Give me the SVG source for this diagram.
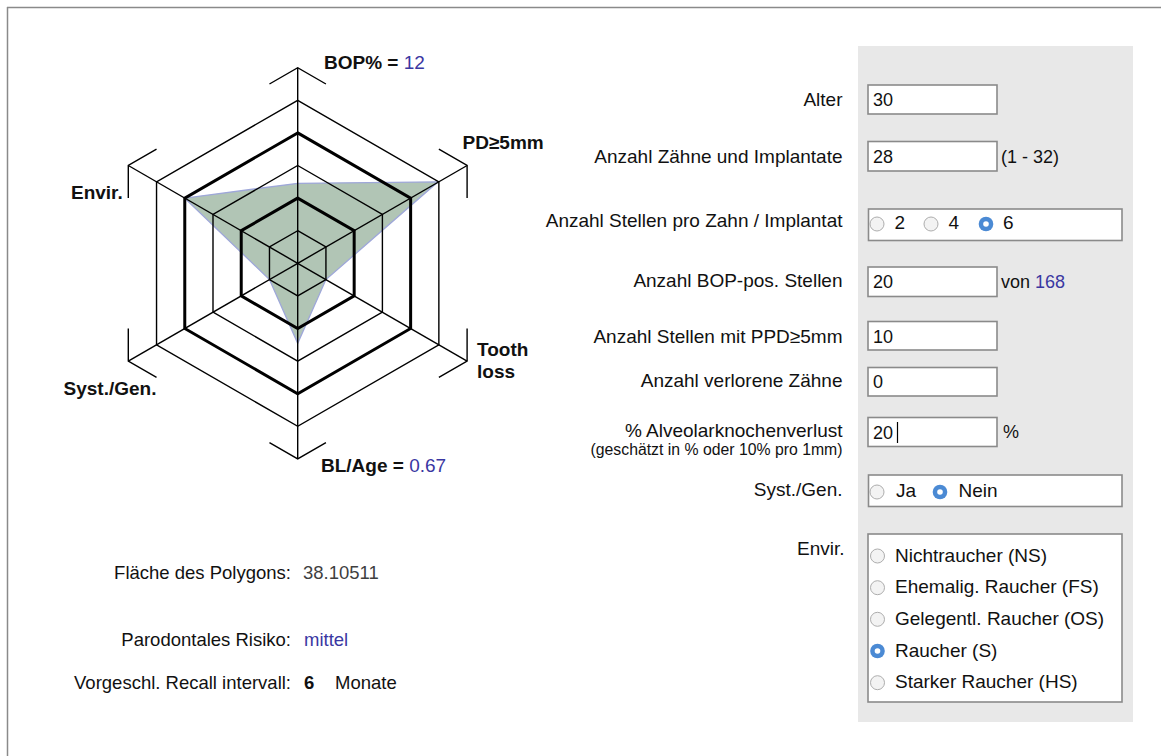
<svg xmlns="http://www.w3.org/2000/svg" width="1161" height="756" viewBox="0 0 1161 756">
  <style>
    .t{font-family:"Liberation Sans",Arial,sans-serif;font-size:19px;fill:#111}
    .lb{font-family:"Liberation Sans",Arial,sans-serif;font-size:19px;fill:#111;text-anchor:end}
    .bl{font-family:"Liberation Sans",Arial,sans-serif;font-size:18.5px;fill:#111;text-anchor:end}
    .v{font-family:"Liberation Sans",Arial,sans-serif;font-size:18px;fill:#111}
    .rl{font-family:"Liberation Sans",Arial,sans-serif;font-size:19px;fill:#111}
    .ax{font-family:"Liberation Sans",Arial,sans-serif;font-size:19px;font-weight:bold;fill:#111}
    .blue{fill:#3a37a2;font-weight:normal}
    .thin{fill:none;stroke:#000;stroke-width:1.4;stroke-linejoin:miter}
    .thick{fill:none;stroke:#000;stroke-width:3;stroke-linejoin:miter}
    .box{fill:#fff;stroke:#8a8a8a;stroke-width:1.6}
    .ru{fill:#f3f3f3;stroke:#adadad;stroke-width:1}
    .rs{fill:#4b8ad4}
    .rc{fill:#fff}
  </style>

  <!-- page frame -->
  <g id="frame">
    <line x1="7" y1="7.5" x2="1161" y2="7.5" stroke="#8a8a8a" stroke-width="1.5"/>
    <line x1="7.5" y1="7" x2="7.5" y2="756" stroke="#8a8a8a" stroke-width="1.5"/>
  </g>

  <!-- radar chart -->
  <g id="radar-data">
    <polygon points="297.7,183.3 438,181.8 325.93,279.6 297.7,343.3 269.47,279.6 184.77,198.1" fill="#b1c5b5" stroke="#9ea7d9" stroke-width="1.3"/>
  </g>
  <g id="radar-grid">
    <polygon class="thin" points="297.7,230.7 325.93,247 325.93,279.6 297.7,295.9 269.47,279.6 269.47,247"/>
    <polygon class="thick" points="297.7,198.1 354.17,230.7 354.17,295.9 297.7,328.5 241.23,295.9 241.23,230.7"/>
    <polygon class="thin" points="297.7,165.5 382.4,214.4 382.4,312.2 297.7,361.1 213,312.2 213,214.4"/>
    <polygon class="thick" points="297.7,132.9 410.63,198.1 410.63,328.5 297.7,393.7 184.77,328.5 184.77,198.1"/>
    <polygon class="thin" points="297.7,100.3 438.86,181.8 438.86,344.8 297.7,426.3 156.54,344.8 156.54,181.8"/>
  </g>
  <g id="connectors">
    <line class="thin" x1="297.7" y1="263.3" x2="297.7" y2="67.7"/>
    <line class="thin" x1="297.7" y1="263.3" x2="467.1" y2="165.5"/>
    <line class="thin" x1="297.7" y1="263.3" x2="467.1" y2="361.1"/>
    <line class="thin" x1="297.7" y1="263.3" x2="297.7" y2="458.9"/>
    <line class="thin" x1="297.7" y1="263.3" x2="128.3" y2="361.1"/>
    <line class="thin" x1="297.7" y1="263.3" x2="128.3" y2="165.5"/>
    <polyline class="thin" points="269.47,84 297.7,67.7 325.93,84"/>
    <polyline class="thin" points="438.87,149.2 467.1,165.5 467.1,198.1"/>
    <polyline class="thin" points="467.1,328.5 467.1,361.1 438.87,377.4"/>
    <polyline class="thin" points="325.93,442.6 297.7,458.9 269.47,442.6"/>
    <polyline class="thin" points="156.53,377.4 128.3,361.1 128.3,328.5"/>
    <polyline class="thin" points="128.3,198.1 128.3,165.5 156.53,149.2"/>
  </g>
  <g id="axis-bop"><text class="ax" x="324" y="68.5">BOP% = <tspan class="blue">12</tspan></text></g>
  <g id="axis-pd"><text class="ax" x="462.5" y="148.5">PD≥5mm</text></g>
  <g id="axis-tooth"><text class="ax" x="477" y="355.5">Tooth</text><text class="ax" x="477" y="377.5">loss</text></g>
  <g id="axis-bl"><text class="ax" x="321" y="472">BL/Age = <tspan class="blue">0.67</tspan></text></g>
  <g id="axis-syst"><text class="ax" x="63.5" y="395">Syst./Gen.</text></g>
  <g id="axis-envir"><text class="ax" x="71" y="199">Envir.</text></g>

  <!-- results -->
  <g id="result-area">
    <text class="bl" x="291" y="578.5">Fläche des Polygons:</text>
    <text class="v" x="303" y="578.5" style="fill:#3f3f3f;font-size:18.5px">38.10511</text>
  </g>
  <g id="result-risk">
    <text class="bl" x="291" y="646">Parodontales Risiko:</text>
    <text class="v" x="304" y="646" style="fill:#3a37a2;font-size:18.5px">mittel</text>
  </g>
  <g id="result-recall">
    <text class="bl" x="291" y="689">Vorgeschl. Recall intervall:</text>
    <text class="v" x="304" y="689" style="font-weight:bold;font-size:18.5px">6</text>
    <text class="v" x="335" y="689" style="font-size:18.5px">Monate</text>
  </g>

  <!-- form panel -->
  <rect id="panel" x="858" y="46" width="275" height="676" fill="#e8e8e8"/>

  <g id="row-alter">
    <text class="lb" x="842.5" y="106">Alter</text>
    <rect class="box" x="868" y="85" width="129" height="29"/>
    <text class="v" x="873" y="106">30</text>
  </g>
  <g id="row-zaehne">
    <text class="lb" x="842.5" y="162.5">Anzahl Zähne und Implantate</text>
    <rect class="box" x="868" y="141.5" width="129" height="29.5"/>
    <text class="v" x="873" y="163">28</text>
    <text class="t" x="1001" y="162.5" style="font-size:18px">(1 - 32)</text>
  </g>
  <g id="row-stellen">
    <text class="lb" x="842.5" y="227">Anzahl Stellen pro Zahn / Implantat</text>
    <rect class="box" x="868.5" y="209" width="253.5" height="31.5"/>
    <circle class="ru" cx="877" cy="224" r="7"/>
    <text class="rl" x="894.5" y="229">2</text>
    <circle class="ru" cx="931" cy="224" r="7"/>
    <text class="rl" x="948.5" y="229">4</text>
    <circle class="rs" cx="986" cy="224" r="7.3"/>
    <circle class="rc" cx="986" cy="224" r="2.8"/>
    <text class="rl" x="1003" y="229">6</text>
  </g>
  <g id="row-bop">
    <text class="lb" x="842.5" y="286.5">Anzahl BOP-pos. Stellen</text>
    <rect class="box" x="868" y="267" width="129" height="29.5"/>
    <text class="v" x="873" y="288">20</text>
    <text class="t" x="1001" y="287.5" style="font-size:18px">von <tspan style="fill:#3a37a2">168</tspan></text>
  </g>
  <g id="row-ppd">
    <text class="lb" x="842.5" y="343">Anzahl Stellen mit PPD≥5mm</text>
    <rect class="box" x="868" y="321.5" width="129" height="28.5"/>
    <text class="v" x="873" y="343">10</text>
  </g>
  <g id="row-verloren">
    <text class="lb" x="842.5" y="386.5">Anzahl verlorene Zähne</text>
    <rect class="box" x="868" y="367.5" width="129" height="28.5"/>
    <text class="v" x="873" y="388">0</text>
  </g>
  <g id="row-alveolar">
    <text class="lb" x="842.5" y="437">% Alveolarknochenverlust</text>
    <text class="lb" x="842.5" y="455" style="font-size:15.8px">(geschätzt in % oder 10% pro 1mm)</text>
    <rect class="box" x="868" y="417.5" width="129" height="29"/>
    <text class="v" x="873" y="438.5">20</text>
    <line x1="897.5" y1="422" x2="897.5" y2="443" stroke="#000" stroke-width="1.2"/>
    <text class="t" x="1003" y="437.5" style="font-size:18px">%</text>
  </g>
  <g id="row-syst">
    <text class="lb" x="842.5" y="496">Syst./Gen.</text>
    <rect class="box" x="868.5" y="475" width="253.5" height="31.5"/>
    <circle class="ru" cx="877" cy="492" r="7"/>
    <text class="rl" x="896" y="496.5">Ja</text>
    <circle class="rs" cx="940" cy="492" r="7.3"/>
    <circle class="rc" cx="940" cy="492" r="2.8"/>
    <text class="rl" x="958.5" y="496.5">Nein</text>
  </g>
  <g id="row-envir">
    <text class="t" x="797" y="554.5">Envir.</text>
    <rect class="box" x="868" y="534" width="254" height="168"/>
    <circle class="ru" cx="877.5" cy="556" r="7"/>
    <text class="t" x="895" y="561.5">Nichtraucher (NS)</text>
    <circle class="ru" cx="877.5" cy="587.7" r="7"/>
    <text class="t" x="895" y="593.2">Ehemalig. Raucher (FS)</text>
    <circle class="ru" cx="877.5" cy="619.3" r="7"/>
    <text class="t" x="895" y="624.8">Gelegentl. Raucher (OS)</text>
    <circle class="rs" cx="877.5" cy="651" r="7.3"/>
    <circle class="rc" cx="877.5" cy="651" r="2.8"/>
    <text class="t" x="895" y="656.5">Raucher (S)</text>
    <circle class="ru" cx="877.5" cy="682.7" r="7"/>
    <text class="t" x="895" y="688.2">Starker Raucher (HS)</text>
  </g>
</svg>
